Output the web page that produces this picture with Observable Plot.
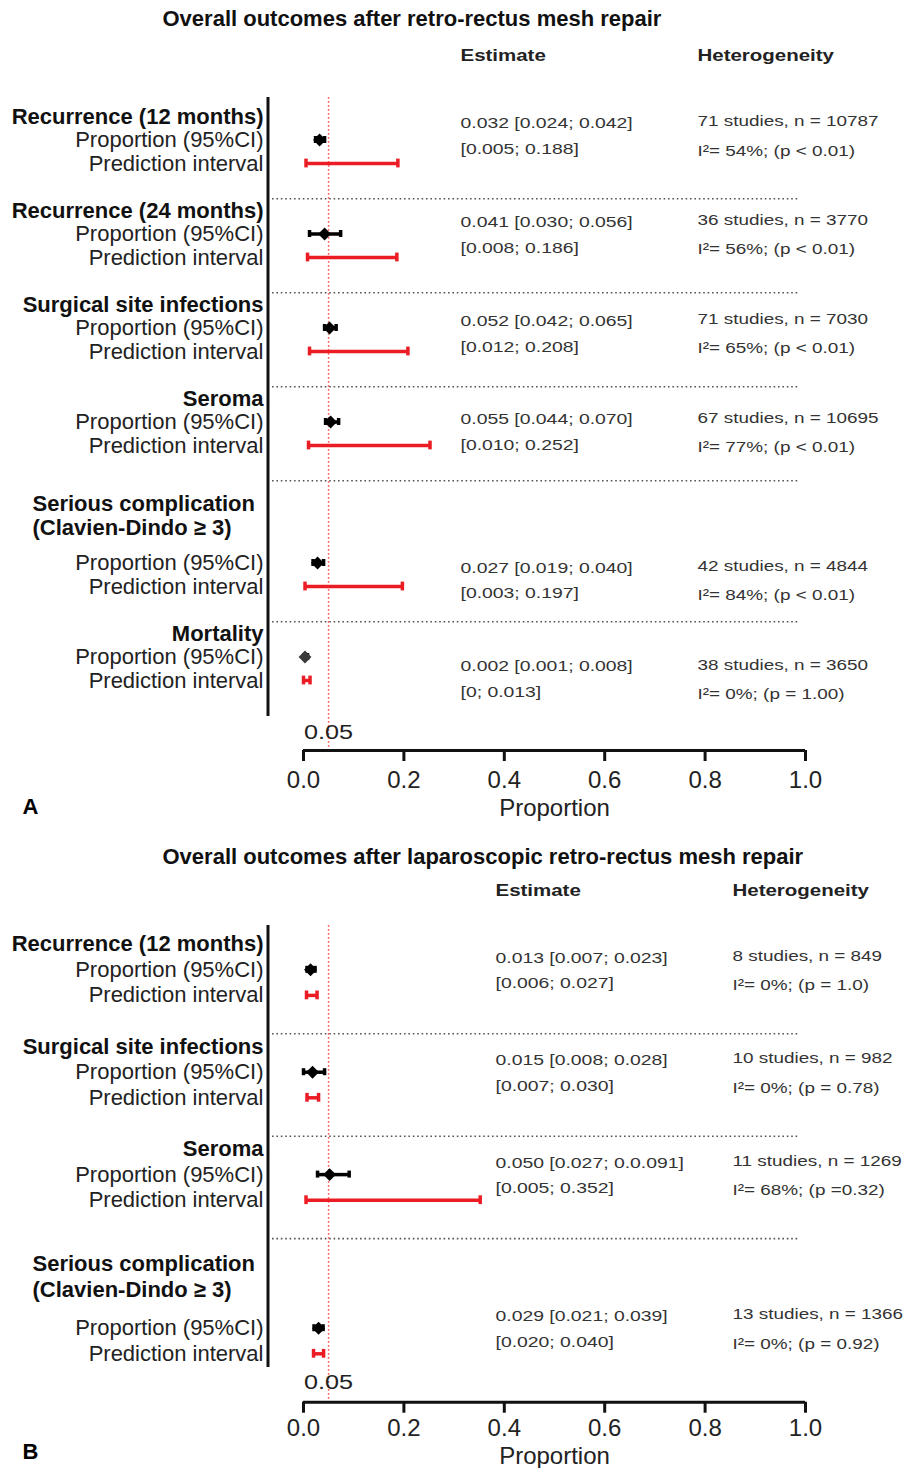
<!DOCTYPE html>
<html>
<head>
<meta charset="utf-8">
<script src="https://cdn.jsdelivr.net/npm/d3@7"></script>
<script src="https://cdn.jsdelivr.net/npm/@observablehq/plot@0.6"></script>
<style>
  html, body { margin: 0; padding: 0; background: #fff; }
  #chart svg { display: block; }
</style>
</head>
<body>
<div id="chart"></div>
<script>
// ---------- shared labels ----------
const rowLabels = ["Proportion (95%CI)", "Prediction interval"];
const columnHeaders = ["Estimate", "Heterogeneity"];
const xTicks = [0, 0.2, 0.4, 0.6, 0.8, 1.0];
const xLabel = "Proportion";
const refValue = 0.05;
const refLabel = "0.05";

// ---------- Panel A ----------
const aTitle = "Overall outcomes after retro-rectus mesh repair";
const aLetter = "A";
const aOutcomes = ["Recurrence (12 months)", "Recurrence (24 months)", "Surgical site infections", "Seroma", "Serious complication\n(Clavien-Dindo \u2265 3)", "Mortality"];
const aEst   = [0.032, 0.042, 0.052, 0.054, 0.028, 0.003];
const aCiLo  = [0.024, 0.012, 0.042, 0.044, 0.019, 0.001];
const aCiHi  = [0.042, 0.074, 0.065, 0.070, 0.040, 0.008];
const aPiLo  = [0.005, 0.008, 0.012, 0.010, 0.003, 0.000];
const aPiHi  = [0.188, 0.186, 0.208, 0.252, 0.197, 0.013];
const aEstText1 = ["0.032 [0.024; 0.042]", "0.041 [0.030; 0.056]", "0.052 [0.042; 0.065]", "0.055 [0.044; 0.070]", "0.027 [0.019; 0.040]", "0.002 [0.001; 0.008]"];
const aEstText2 = ["[0.005; 0.188]", "[0.008; 0.186]", "[0.012; 0.208]", "[0.010; 0.252]", "[0.003; 0.197]", "[0; 0.013]"];
const aHetText1 = ["71 studies, n = 10787", "36 studies, n = 3770", "71 studies, n = 7030", "67 studies, n = 10695", "42 studies, n = 4844", "38 studies, n = 3650"];
const aHetText2 = ["I\u00b2= 54%; (p < 0.01)", "I\u00b2= 56%; (p < 0.01)", "I\u00b2= 65%; (p < 0.01)", "I\u00b2= 77%; (p < 0.01)", "I\u00b2= 84%; (p < 0.01)", "I\u00b2= 0%; (p = 1.00)"];

// ---------- Panel B ----------
const bTitle = "Overall outcomes after laparoscopic retro-rectus mesh repair";
const bLetter = "B";
const bOutcomes = ["Recurrence (12 months)", "Surgical site infections", "Seroma", "Serious complication\n(Clavien-Dindo \u2265 3)"];
const bEst   = [0.014, 0.018, 0.052, 0.030];
const bCiLo  = [0.007, 0.000, 0.028, 0.021];
const bCiHi  = [0.023, 0.042, 0.091, 0.039];
const bPiLo  = [0.006, 0.007, 0.005, 0.020];
const bPiHi  = [0.027, 0.030, 0.352, 0.040];
const bEstText1 = ["0.013 [0.007; 0.023]", "0.015 [0.008; 0.028]", "0.050 [0.027; 0.0.091]", "0.029 [0.021; 0.039]"];
const bEstText2 = ["[0.006; 0.027]", "[0.007; 0.030]", "[0.005; 0.352]", "[0.020; 0.040]"];
const bHetText1 = ["8 studies, n = 849", "10 studies, n = 982", "11 studies, n = 1269", "13 studies, n = 1366"];
const bHetText2 = ["I\u00b2= 0%; (p = 1.0)", "I\u00b2= 0%; (p = 0.78)", "I\u00b2= 68%; (p =0.32)", "I\u00b2= 0%; (p = 0.92)"];

// ---------- layout (pixels inside each panel svg) ----------
const layoutA = {height: 835, y0: 116, unit: 23.5, titleY: 18.5, headY: 55.5, axisTop: 97, axisBottom: 716,
  xAxisY: 750, tickDy: 30, labelDy: 58, refDy: -18, letterY: 806,
  textScale: 1.051, textOffset: -0.22, estHalf: 0.55, hetHalf: 0.62, estX: 460, hetX: 697};
const layoutB = {height: 633, y0: 108.7, unit: 25.6, titleY: 21.5, headY: 55.5, axisTop: 90, axisBottom: 532,
  xAxisY: 566.7, tickDy: 26, labelDy: 54, refDy: -20, letterY: 616,
  textScale: 1.0, textOffset: 0.03, estHalf: 0.5, hetHalf: 0.57, estX: 495, hetX: 732};

const FONT = "'Liberation Sans', Arial, Helvetica, sans-serif";
const RED = "#ec1c24";
const stretch = new Map();

function panel(cfg, d) {
  const u = px => (px - cfg.y0) / cfg.unit;
  const groups = [];
  let prevPred = null;
  d.outcomes.forEach((name, i) => {
    const lines = name.split("\n");
    const multi = lines.length > 1;
    const sep = i === 0 ? null : prevPred + 1.5;
    const start = i === 0 ? 0 : sep + (multi ? 1 : 0.5);
    const prop = start + (lines.length - 1) + (multi ? 1.5 : 1);
    const pred = prop + 1;
    const textC = cfg.textScale * prop + cfg.textOffset;
    groups.push({name, lines, multi, sep, start, prop, pred, textC,
      est: d.est[i], ciLo: d.ciLo[i], ciHi: d.ciHi[i], piLo: d.piLo[i], piHi: d.piHi[i],
      e1: d.e1[i], e2: d.e2[i], h1: d.h1[i], h2: d.h2[i]});
    prevPred = pred;
  });
  const headSingle = groups.filter(g => !g.multi).map(g => ({text: g.lines[0], y: g.start}));
  const headMulti = groups.filter(g => g.multi).flatMap(g => g.lines.map((t, k) => ({text: t, y: g.start + k})));
  const labelRows = groups.flatMap(g => [{text: rowLabels[0], y: g.prop}, {text: rowLabels[1], y: g.pred}]);
  const redCap = 4.4 / cfg.unit;
  const blackCap = 3.5 / cfg.unit;
  const piCaps = groups.flatMap(g => [{x: g.piLo, y: g.pred}, {x: g.piHi, y: g.pred}]);
  const ciCaps = groups.flatMap(g => [{x: g.ciLo, y: g.prop}, {x: g.ciHi, y: g.prop}]);
  const axisU = u(cfg.xAxisY);

  [...d.e1, ...d.e2].forEach(s => stretch.set(s, 1.25));
  [...d.h1, ...d.h2].forEach(s => stretch.set(s, 1.22));
  columnHeaders.forEach(s => stretch.set(s, 1.28));
  stretch.set(refLabel, 1.2);

  const fixed = {frameAnchor: "top-left", lineAnchor: "middle", textAnchor: "start"};

  return Plot.plot({
    width: 905,
    height: cfg.height,
    margin: 0,
    style: {fontFamily: FONT, background: "#fff", color: "#000"},
    x: {domain: [0, 1], range: [303, 805], axis: null},
    y: {domain: [0, 1], range: [cfg.y0, cfg.y0 + cfg.unit], axis: null},
    marks: [
      // title, column headers, panel letter
      Plot.text([d.title], {...fixed, dx: 162, dy: cfg.titleY, fontSize: 22, fontWeight: "bold", fill: "#111"}),
      Plot.text([columnHeaders[0]], {...fixed, dx: cfg.estX, dy: cfg.headY, fontSize: 16, fontWeight: "bold", fill: "#222"}),
      Plot.text([columnHeaders[1]], {...fixed, dx: cfg.hetX, dy: cfg.headY, fontSize: 16, fontWeight: "bold", fill: "#222"}),
      Plot.text([d.letter], {...fixed, dx: 22, dy: cfg.letterY, fontSize: 22, fontWeight: "bold", fill: "#000"}),
      // separators
      Plot.ruleY(groups.filter(g => g.sep != null), {y: "sep", insetLeft: 272, insetRight: 105,
        stroke: "#555", strokeWidth: 1.6, strokeDasharray: "1.6,2.8"}),
      // reference line at 0.05
      Plot.ruleX([refValue], {x: v => v, y1: u(cfg.axisTop), y2: axisU, stroke: "#ff5c5c",
        strokeWidth: 1.5, strokeDasharray: "1.8,2.2"}),
      // y-axis vertical line
      Plot.ruleX([0], {x: v => v, y1: u(cfg.axisTop), y2: u(cfg.axisBottom), dx: -35.5, stroke: "#111", strokeWidth: 3}),
      // group headers
      Plot.text(headSingle, {y: "y", text: "text", frameAnchor: "left", dx: 263, textAnchor: "end",
        fontSize: 22, fontWeight: "bold", fill: "#111"}),
      Plot.text(headMulti, {y: "y", text: "text", frameAnchor: "left", dx: 32, textAnchor: "start",
        fontSize: 22, fontWeight: "bold", fill: "#111"}),
      // row labels
      Plot.text(labelRows, {y: "y", text: "text", frameAnchor: "left", dx: 263, textAnchor: "end",
        fontSize: 22, fill: "#222"}),
      // prediction intervals
      Plot.ruleY(groups, {y: "pred", x1: "piLo", x2: "piHi", stroke: RED, strokeWidth: 3.5}),
      Plot.ruleX(piCaps, {x: "x", y1: p => p.y - redCap, y2: p => p.y + redCap, stroke: RED, strokeWidth: 3.5}),
      // confidence intervals
      Plot.ruleY(groups, {y: "prop", x1: "ciLo", x2: "ciHi", stroke: "#000", strokeWidth: 3.5}),
      Plot.ruleX(ciCaps, {x: "x", y1: p => p.y - blackCap, y2: p => p.y + blackCap, stroke: "#000", strokeWidth: 3.5}),
      // estimates
      Plot.dot(groups, {x: "est", y: "prop", symbol: "diamond2", r: 5.8,
        fill: g => g.name === "Mortality" ? "#3a3a3a" : "#000", stroke: "none"}),
      // estimate / heterogeneity text
      Plot.text(groups, {y: g => g.textC - cfg.estHalf, text: "e1", frameAnchor: "left", dx: cfg.estX,
        textAnchor: "start", fontSize: 15.5, fill: "#333"}),
      Plot.text(groups, {y: g => g.textC + cfg.estHalf, text: "e2", frameAnchor: "left", dx: cfg.estX,
        textAnchor: "start", fontSize: 15.5, fill: "#333"}),
      Plot.text(groups, {y: g => g.textC - cfg.hetHalf, text: "h1", frameAnchor: "left", dx: cfg.hetX,
        textAnchor: "start", fontSize: 15.5, fill: "#333"}),
      Plot.text(groups, {y: g => g.textC + cfg.hetHalf, text: "h2", frameAnchor: "left", dx: cfg.hetX,
        textAnchor: "start", fontSize: 15.5, fill: "#333"}),
      // x axis
      Plot.ruleY([axisU], {y: v => v, x1: 0, x2: 1, stroke: "#111", strokeWidth: 3}),
      Plot.ruleX(xTicks, {x: v => v, y1: axisU, y2: u(cfg.xAxisY + 11), stroke: "#111", strokeWidth: 3}),
      Plot.text(xTicks, {x: v => v, y: axisU, dy: cfg.tickDy, text: v => v.toFixed(1), fontSize: 24, fill: "#222"}),
      Plot.text([xLabel], {x: 0.5, y: axisU, dy: cfg.labelDy, text: v => v, fontSize: 24, fill: "#222"}),
      Plot.text([refLabel], {x: refValue, y: axisU, dy: cfg.refDy, text: v => v, fontSize: 21, fill: "#222"})
    ]
  });
}

const svgA = panel(layoutA, {title: aTitle, letter: aLetter, outcomes: aOutcomes, est: aEst, ciLo: aCiLo, ciHi: aCiHi,
  piLo: aPiLo, piHi: aPiHi, e1: aEstText1, e2: aEstText2, h1: aHetText1, h2: aHetText2});
const svgB = panel(layoutB, {title: bTitle, letter: bLetter, outcomes: bOutcomes, est: bEst, ciLo: bCiLo, ciHi: bCiHi,
  piLo: bPiLo, piHi: bPiHi, e1: bEstText1, e2: bEstText2, h1: bHetText1, h2: bHetText2});

const chart = document.getElementById("chart");
chart.appendChild(svgA);
chart.appendChild(svgB);

// horizontally widen the right-hand text columns (glyph scaling about each text's anchor)
for (const svg of [svgA, svgB]) {
  for (const t of svg.querySelectorAll("text")) {
    const f = stretch.get(t.textContent);
    if (f) {
      const x0 = +t.getAttribute("x") || 0;
      const prev = t.getAttribute("transform") || "";
      t.setAttribute("transform", `${prev} translate(${x0},0) scale(${f},1) translate(${-x0},0)`.trim());
    }
  }
}
</script>
</body>
</html>
